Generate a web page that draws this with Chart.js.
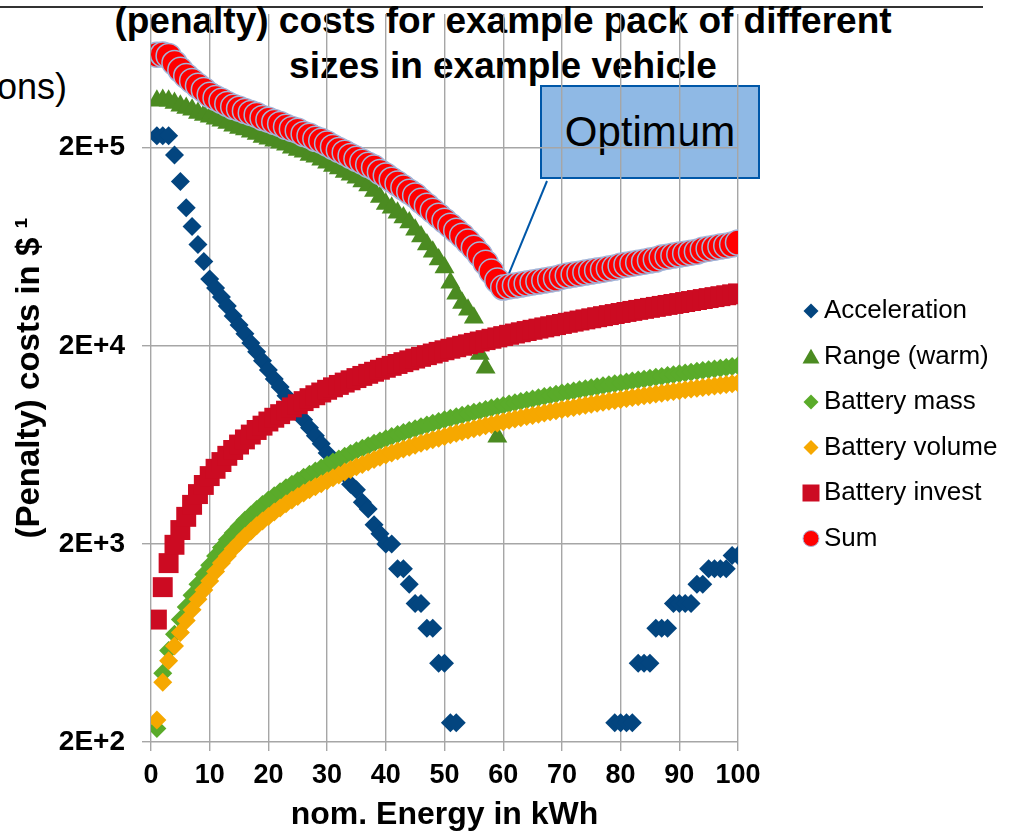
<!DOCTYPE html>
<html>
<head>
<meta charset="utf-8">
<script src="https://cdn.jsdelivr.net/npm/chart.js@4.4.1/dist/chart.umd.min.js"></script>
<style>
  body { margin: 0; background: #fff; }
  #wrap { position: relative; width: 1012px; height: 836px; overflow: hidden; font-family: 'Liberation Sans', Arial, sans-serif; color: #000; }
  #topLine { position: absolute; left: 0; top: 6px; width: 983px; height: 1.5px; background: #333; }
  #cutText { position: absolute; right: 945px; top: 67px; font-size: 36px; line-height: 40px; white-space: nowrap; }
  #title { position: absolute; left: 0; width: 1006px; top: -2px; text-align: center; font-weight: bold; font-size: 37px; line-height: 45px; }
  #optimum { position: absolute; left: 540px; top: 85px; width: 220px; height: 94px; box-sizing: border-box; border: 2px solid #0057a8; background: #8fb9e5; font-size: 42px; display: flex; align-items: center; justify-content: center; }
  #chart { position: absolute; left: 0; top: 0; }
</style>
</head>
<body>
<div id="wrap">
  <div id="topLine"></div>
  <div id="cutText">ons)</div>
  <div id="title">(penalty) costs for example pack of different<br>sizes in example vehicle</div>
  <div id="optimum">Optimum</div>
  <canvas id="chart" width="1012" height="836"></canvas>
</div>
<script>
// nominal pack energy (kWh) for each point
const energyKWh = [1,2,3,4,5,6,7,8,9,10,11,12,13,14,15,16,17,18,19,20,
  21,22,23,24,25,26,27,28,29,30,31,32,33,34,35,36,37,38,39,40,
  41,42,43,44,45,46,47,48,49,50,51,52,53,54,55,56,57,58,59,60,
  61,62,63,64,65,66,67,68,69,70,71,72,73,74,75,76,77,78,79,80,
  81,82,83,84,85,86,87,88,89,90,91,92,93,94,95,96,97,98,99,100];

// (penalty) costs in $
const acceleration = [230000,230000,230000,184000,135000,99700,80000,64900,53300,43500,
  39200,35300,31800,28300,25500,23000,20700,18700,16800,15100,
  13600,12400,11200,10200,9300,8470,7720,7040,6410,5750,
  5250,4750,4500,4000,3750,3250,3000,2500,2250,2000,
  2000,1500,1500,1250,1000,1000,750,750,500,500,
  250,250,null,null,null,null,null,null,null,null,
  null,null,null,null,null,null,null,null,null,null,
  null,null,null,null,null,null,null,null,250,250,
  250,250,500,500,500,750,750,750,1000,1000,
  1000,1000,1250,1250,1500,1500,1500,1500,1750,1750];

const rangeWarm = [345000,349000,345000,337000,326000,318000,311000,300000,293000,287000,
  280000,274000,267000,258000,252000,247000,241000,235000,227000,222000,
  217000,212000,207000,200000,195000,191000,184000,180000,174000,168000,
  162000,157000,151000,146000,141000,135000,129000,121000,113000,104000,
  99700,94100,88800,83800,77200,71200,64900,59800,54500,49700,
  41600,36600,32900,30400,27700,18200,15500,null,6960,null,
  null,null,null,null,null,null,null,null,null,null,
  null,null,null,null,null,null,null,null,null,null,
  null,null,null,null,null,null,null,null,null,null,
  null,null,null,null,null,null,null,null,null,null];

const batteryMass = [234,445,580,700,830,960,1100,1250,1400,1560,
  1740,1920,2100,2270,2450,2630,2800,2980,3160,3330,
  3500,3670,3840,4000,4170,4340,4500,4670,4840,5000,
  5180,5360,5540,5720,5900,6080,6260,6440,6620,6800,
  6970,7130,7300,7470,7640,7800,7970,8140,8300,8470,
  8620,8780,8930,9080,9240,9390,9540,9700,9850,10000,
  10160,10310,10470,10620,10780,10930,11090,11240,11400,11550,
  11700,11840,11990,12130,12280,12420,12570,12710,12860,13000,
  13150,13290,13440,13580,13730,13870,14020,14160,14310,14450,
  14590,14730,14870,15010,15150,15290,15430,15570,15710,15850];

const batteryVolume = [258,400,515,610,715,820,930,1050,1170,1300,
  1450,1600,1740,1890,2030,2180,2320,2470,2610,2750,
  2900,3040,3190,3330,3470,3610,3750,3890,4030,4170,
  4320,4460,4610,4750,4900,5040,5190,5330,5480,5620,
  5760,5890,6030,6160,6300,6440,6570,6710,6840,6980,
  7110,7240,7370,7500,7630,7760,7890,8020,8150,8280,
  8410,8540,8660,8790,8910,9040,9160,9290,9410,9540,
  9660,9780,9900,10020,10140,10250,10370,10490,10610,10730,
  10850,10960,11080,11190,11310,11420,11540,11650,11770,11880,
  11990,12100,12210,12320,12430,12540,12650,12760,12870,12980];

const batteryInvest = [830,1210,1600,1980,2350,2740,3150,3570,3970,4400,
  4790,5180,5570,5960,6350,6740,7130,7520,7910,8300,
  8670,9040,9410,9780,10150,10520,10890,11260,11630,12000,
  12350,12700,13050,13400,13750,14100,14450,14800,15150,15500,
  15850,16200,16550,16900,17250,17600,17950,18300,18650,19000,
  19340,19680,20020,20360,20700,21040,21380,21720,22060,22400,
  22740,23080,23420,23760,24100,24440,24780,25120,25460,25800,
  26150,26500,26850,27200,27550,27900,28250,28600,28950,29300,
  29660,30020,30380,30740,31100,31460,31820,32180,32540,32900,
  33290,33680,34070,34460,34850,35240,35630,36020,36410,36800];

const sumCost = [590000,592000,582000,536000,495000,461000,435000,411000,392000,370000,
  357000,345000,333000,322000,315000,307000,300000,293000,283000,277000,
  270000,264000,255000,249000,244000,235000,230000,222000,217000,210000,
  202000,195000,189000,182000,176000,170000,164000,159000,151000,145000,
  138000,132000,126000,120000,115000,108000,102000,96300,90800,85700,
  80900,76300,72000,67200,62600,57800,52600,47400,42700,39400,
  39900,40300,40800,41300,41800,42200,42700,43200,43700,44700,
  45300,45800,46300,46900,47400,48000,48500,49100,49700,50800,
  51400,52000,52600,53200,53900,54500,55800,56400,57100,57800,
  58400,59100,59800,61200,61900,62600,63400,64100,64900,66400];

const seriesNames = ['Acceleration', 'Range (warm)', 'Battery mass', 'Battery volume', 'Battery invest', 'Sum'];
const yTickValues = [200, 2000, 20000, 200000];
const yTickLabels = ['2E+2', '2E+3', '2E+4', '2E+5'];
const optimumKWh = 60;

const FONT = "'Liberation Sans', Arial, sans-serif";

function toPoints(values) {
  return energyKWh.map((e, i) => ({ x: e, y: values[i] }));
}

const datasets = [
  { label: seriesNames[0], data: toPoints(acceleration), pointStyle: 'rectRot', pointRadius: 9.5,
    pointBackgroundColor: '#03457f', pointBorderWidth: 0, order: 6 },
  { label: seriesNames[1], data: toPoints(rangeWarm), pointStyle: 'triangle', pointRadius: 11.5,
    pointBackgroundColor: '#4b8b21', pointBorderWidth: 0, order: 5 },
  { label: seriesNames[2], data: toPoints(batteryMass), pointStyle: 'rectRot', pointRadius: 9.5,
    pointBackgroundColor: '#5aab2a', pointBorderWidth: 0, order: 4 },
  { label: seriesNames[3], data: toPoints(batteryVolume), pointStyle: 'rectRot', pointRadius: 9.5,
    pointBackgroundColor: '#f6a800', pointBorderWidth: 0, order: 3 },
  { label: seriesNames[4], data: toPoints(batteryInvest), pointStyle: 'rect', pointRadius: 14.1,
    pointBackgroundColor: '#cc0b22', pointBorderWidth: 0, order: 2 },
  { label: seriesNames[5], data: toPoints(sumCost), pointStyle: 'circle', pointRadius: 12.5,
    pointBackgroundColor: '#ff0000', pointBorderColor: '#a3b5d9', pointBorderWidth: 1.5, order: 1 }
];

// callout from the "Optimum" box to the minimum of the sum
const calloutLine = {
  id: 'calloutLine',
  beforeDatasetsDraw(chart) {
    const { ctx, scales } = chart;
    const i = energyKWh.indexOf(optimumKWh);
    const px = scales.x.getPixelForValue(energyKWh[i]);
    const py = scales.y.getPixelForValue(sumCost[i]);
    ctx.save();
    ctx.strokeStyle = '#0057a8';
    ctx.lineWidth = 2;
    ctx.beginPath();
    ctx.moveTo(547, 181);
    ctx.lineTo(px, py);
    ctx.stroke();
    ctx.restore();
  }
};

function drawMarker(ctx, style, x, y, r) {
  ctx.beginPath();
  if (style === 'rectRot') {
    ctx.moveTo(x, y - r); ctx.lineTo(x + r, y); ctx.lineTo(x, y + r); ctx.lineTo(x - r, y);
  } else if (style === 'triangle') {
    const c = Math.cos(Math.PI / 6) * r;
    ctx.moveTo(x, y - r); ctx.lineTo(x + c, y + r / 2); ctx.lineTo(x - c, y + r / 2);
  } else if (style === 'rect') {
    ctx.rect(x - r / 2, y - r / 2, r, r);
  } else {
    ctx.arc(x, y, r, 0, Math.PI * 2);
  }
  ctx.closePath();
}

// legend on the right, drawn by hand so the plot keeps its size
const sideLegend = {
  id: 'sideLegend',
  afterDraw(chart) {
    const ctx = chart.ctx;
    const sizes = { rectRot: 7.5, triangle: 9.8, rect: 17, circle: 8 };
    const shift = { rectRot: 0, triangle: 2, rect: 0, circle: 0 };
    ctx.save();
    ctx.font = '26px ' + FONT;
    ctx.textBaseline = 'middle';
    ctx.fillStyle = '#000';
    chart.data.datasets.forEach((ds, i) => {
      const y = 311 + i * 45.5;
      drawMarker(ctx, ds.pointStyle, 811, y + shift[ds.pointStyle], sizes[ds.pointStyle]);
      ctx.fillStyle = ds.pointBackgroundColor;
      ctx.fill();
      if (ds.pointBorderWidth) {
        ctx.strokeStyle = ds.pointBorderColor;
        ctx.lineWidth = 1;
        ctx.stroke();
      }
      ctx.fillStyle = '#000';
      ctx.fillText(ds.label, 824, y);
    });
    ctx.restore();
  }
};

new Chart(document.getElementById('chart'), {
  type: 'scatter',
  data: { datasets: datasets },
  options: {
    responsive: false,
    animation: false,
    events: [],
    layout: { padding: { top: 8, right: 274, bottom: 0, left: 0 } },
    plugins: {
      legend: { display: false },
      tooltip: { enabled: false },
      title: { display: false }
    },
    scales: {
      x: {
        type: 'linear',
        min: 0,
        max: 100,
        ticks: { stepSize: 10, color: '#000', padding: 8, font: { family: FONT, size: 27, weight: 'bold' } },
        grid: { color: '#a6a6a6', lineWidth: 1.4, tickLength: 9 },
        border: { display: false },
        title: { display: true, text: 'nom. Energy in kWh', color: '#000', padding: { top: 0, bottom: 2 },
                 font: { family: FONT, size: 32, weight: 'bold' } },
        afterFit(scale) {
          scale.height = 94;
          scale.paddingLeft = 0;
          scale.paddingRight = 0;
        }
      },
      y: {
        type: 'logarithmic',
        min: 200,
        max: 946000,
        afterBuildTicks(scale) { scale.ticks = yTickValues.map(v => ({ value: v })); },
        ticks: {
          color: '#000', padding: 17,
          font: { family: FONT, size: 28, weight: 'bold' },
          callback: (v) => yTickLabels[yTickValues.indexOf(v)]
        },
        grid: { color: '#a6a6a6', lineWidth: 1.4, tickLength: 9 },
        border: { display: false },
        title: { display: true, text: '(Penalty) costs in $ \u00b9', color: '#000', padding: { top: 10, bottom: 0 },
                 font: { family: FONT, size: 33, weight: 'bold' } },
        afterFit(scale) {
          scale.width = 151;
          scale.paddingTop = 0;
          scale.paddingBottom = 0;
        }
      }
    }
  },
  plugins: [calloutLine, sideLegend]
});
</script>
</body>
</html>
